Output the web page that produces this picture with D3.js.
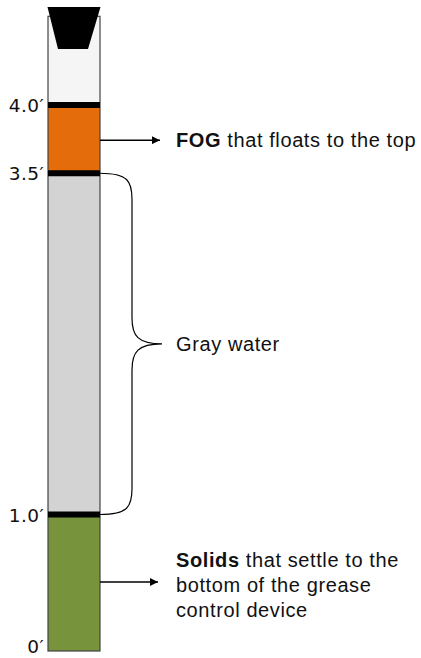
<!DOCTYPE html>
<html>
<head>
<meta charset="utf-8">
<script src="https://cdn.jsdelivr.net/npm/d3@7"></script>
<style>
  body { margin: 0; background: #fff; }
  svg { display: block; }
</style>
</head>
<body>
<div id="chart"></div>
<script>
// levels in feet
var layerNames = ['Solids', 'Gray water', 'FOG', 'Air'];
var layerBottoms = [0, 1.0, 3.5, 4.0];
var layerTops = [1.0, 3.5, 4.0, 4.65];
var layerColors = ['#77933c', '#d3d3d3', '#e46c0a', '#f5f5f5'];

var bandLevels = [1.0, 3.5, 4.0];
var tickValues = [0, 1.0, 3.5, 4.0];
var tickLabels = ['0\u2032', '1.0\u2032', '3.5\u2032', '4.0\u2032'];

var width = 421;
var height = 658;

var tube_x = 48;
var tube_w = 52;

var y = d3.scaleLinear()
    .domain([0, 4])
    .range([651, 105]);

var svg = d3.select('#chart')
  .append('svg')
    .attr('width', width)
    .attr('height', height);

// layers
svg.append('g')
    .selectAll('rect.layer')
    .data(layerNames)
  .enter()
    .append('rect')
    .attr('class', 'layer')
    .attr('x', tube_x)
    .attr('width', tube_w)
    .attr('y', function(d, i) { return y(layerTops[i]); })
    .attr('height', function(d, i) { return y(layerBottoms[i]) - y(layerTops[i]); })
    .attr('fill', function(d, i) { return layerColors[i]; });

// tube outline
var tube_top = y(layerTops[layerTops.length - 1]);
svg.append('rect')
    .attr('x', tube_x)
    .attr('y', tube_top)
    .attr('width', tube_w)
    .attr('height', y(0) - tube_top)
    .attr('fill', 'none')
    .attr('stroke', '#444')
    .attr('stroke-width', 1.2);

// black bands between layers
svg.append('g')
    .selectAll('rect.band')
    .data(bandLevels)
  .enter()
    .append('rect')
    .attr('class', 'band')
    .attr('x', tube_x)
    .attr('width', tube_w)
    .attr('y', function(d) { return y(d) - 3; })
    .attr('height', 6)
    .attr('fill', '#000');

// cap
svg.append('path')
    .attr('d', 'M' + (tube_x - 0.5) + ',7 L' + (tube_x + tube_w + 0.5) + ',7 L' +
          (tube_x + 40) + ',49 L' + (tube_x + 10) + ',49 Z')
    .attr('fill', '#000');

// level labels
svg.append('g')
    .selectAll('text.tick')
    .data(tickValues)
  .enter()
    .append('text')
    .attr('class', 'tick')
    .attr('font-family', 'DejaVu Sans, Verdana, sans-serif')
    .attr('font-size', '18.5px')
    .attr('letter-spacing', '0.4px')
    .attr('fill', '#111')
    .style('text-anchor', 'end')
    .attr('x', 44)
    .attr('y', function(d) { return d === 0 ? y(d) + 2 : y(d) + 7; })
    .text(function(d, i) { return tickLabels[i]; });

// arrow marker
svg.append('defs')
  .append('marker')
    .attr('id', 'arrow')
    .attr('viewBox', '0 0 10 10')
    .attr('refX', 10)
    .attr('refY', 5)
    .attr('markerWidth', 10)
    .attr('markerHeight', 8)
    .attr('markerUnits', 'userSpaceOnUse')
    .attr('orient', 'auto')
  .append('path')
    .attr('d', 'M0,0 L10,5 L0,10 Z')
    .attr('fill', '#000');

var font = 'Liberation Sans, Arial, Helvetica, sans-serif';
var fsize = '20px';
var lspace = '0.6px';
var tube_r = tube_x + tube_w;

// FOG arrow
var fog_y = (y(3.5) + y(4.0)) / 2 + 1;
svg.append('line')
    .attr('x1', tube_r).attr('y1', fog_y)
    .attr('x2', 160).attr('y2', fog_y)
    .attr('stroke', '#000').attr('stroke-width', 1.5)
    .attr('marker-end', 'url(#arrow)');

var fog = svg.append('text')
    .attr('font-family', font)
    .attr('font-size', fsize)
    .attr('letter-spacing', lspace)
    .attr('fill', '#111')
    .attr('x', 176)
    .attr('y', fog_y + 7);
fog.append('tspan').attr('font-weight', 'bold').text('FOG');
fog.append('tspan').text(' that floats to the top');

// brace for gray water
var b0 = y(3.5), b1 = y(1.0), bm = (b0 + b1) / 2;
var bx = 132, tip = 162;
var brace = 'M' + tube_r + ',' + b0 +
    ' C' + (bx - 4) + ',' + b0 + ' ' + bx + ',' + (b0 + 8) + ' ' + bx + ',' + (b0 + 26) +
    ' L' + bx + ',' + (bm - 26) +
    ' C' + bx + ',' + (bm - 8) + ' ' + (bx + 6) + ',' + bm + ' ' + tip + ',' + bm +
    ' C' + (bx + 6) + ',' + bm + ' ' + bx + ',' + (bm + 8) + ' ' + bx + ',' + (bm + 26) +
    ' L' + bx + ',' + (b1 - 26) +
    ' C' + bx + ',' + (b1 - 8) + ' ' + (bx - 4) + ',' + b1 + ' ' + tube_r + ',' + b1;
svg.append('path')
    .attr('d', brace)
    .attr('fill', 'none')
    .attr('stroke', '#000')
    .attr('stroke-width', 1.2);

svg.append('text')
    .attr('font-family', font)
    .attr('font-size', fsize)
    .attr('letter-spacing', lspace)
    .attr('fill', '#111')
    .attr('x', 176)
    .attr('y', bm + 7)
    .text('Gray water');

// solids arrow
var sol_y = 582;
svg.append('line')
    .attr('x1', tube_r).attr('y1', sol_y)
    .attr('x2', 158).attr('y2', sol_y)
    .attr('stroke', '#000').attr('stroke-width', 1.5)
    .attr('marker-end', 'url(#arrow)');

var solidsLines = ['that settle to the', 'bottom of the grease', 'control device'];
var sol = svg.append('text')
    .attr('font-family', font)
    .attr('font-size', fsize)
    .attr('letter-spacing', lspace)
    .attr('fill', '#111')
    .attr('x', 176)
    .attr('y', 567);
sol.append('tspan').attr('font-weight', 'bold').text('Solids');
sol.append('tspan').text(' ' + solidsLines[0]);
sol.append('tspan').attr('x', 176).attr('dy', 25).text(solidsLines[1]);
sol.append('tspan').attr('x', 176).attr('dy', 25).text(solidsLines[2]);
</script>
</body>
</html>
